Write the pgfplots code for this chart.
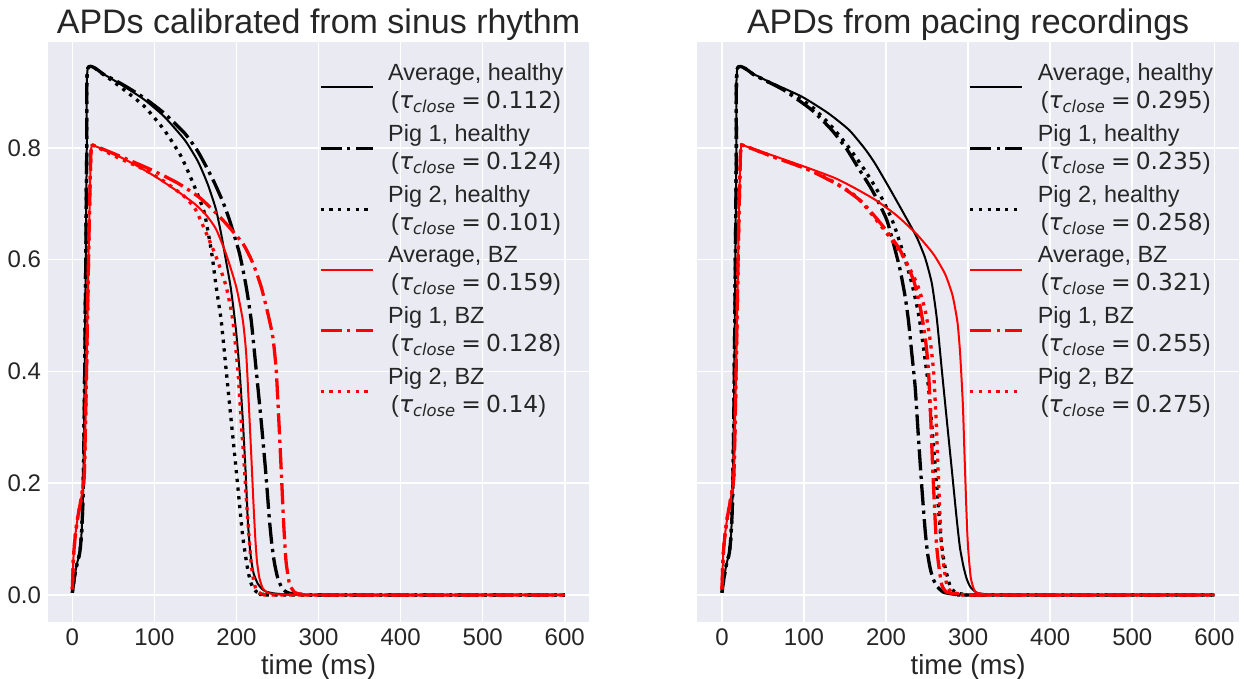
\documentclass[border=0pt]{standalone}
\usepackage{fontspec}
\setmainfont{Liberation Sans}
\newfontfamily\dejavu{DejaVu Sans}
\usepackage{pgfplots}
\pgfplotsset{compat=1.18}
\definecolor{bgc}{HTML}{EAEAF2}
\definecolor{tc}{HTML}{262626}
% tau_close label, mathtext-like
\newcommand{\tauc}[1]{\hspace{1.5pt}({\dejavu\itshape τ\textsubscript{close}}\hspace{0.22em}{\dejavu=}\hspace{0.22em}{\dejavu #1})}

\pgfplotsset{
  apd/.style={
    scale only axis, width=270.85pt, height=289.7pt,
    xmin=-30, xmax=630, ymin=-0.0478, ymax=0.989,
    axis background/.style={fill=bgc},
    axis line style={draw=none},
    tick style={draw=none}, major tick length=0pt,
    grid=major, grid style={white, line width=0.8pt},
    xtick={0,100,200,300,400,500,600},
    ytick={0,0.2,0.4,0.6,0.8},
    tick label style={font=\fontsize{12}{14}\selectfont, text=tc, inner sep=3.2pt},
    /pgf/number format/assume math mode=true,
    yticklabel style={/pgf/number format/fixed, /pgf/number format/fixed zerofill, /pgf/number format/precision=1},
    xlabel={time (ms)},
    xlabel style={font=\fontsize{13.8}{16}\selectfont, text=tc, at={(axis description cs:0.5,0)}, anchor=base, yshift=-26.5pt},
    title style={font=\fontsize{17}{20}\selectfont, text=tc, at={(axis description cs:0.5,1)}, anchor=base, yshift=-1.85pt},
    legend cell align=left,
    legend style={draw=none, fill=none, at={(axis description cs:0.5,0.966)}, anchor=north west,
      font=\fontsize{11.7}{14}\selectfont, text=tc, cells={align=left}, row sep=5.55pt, inner sep=0pt,
      nodes={inner sep=0.5pt}, /tikz/every odd column/.append style={column sep=6.5pt}},
    legend image code/.code={\draw[#1] (0pt,0pt) -- (26pt,0pt);},
    every axis plot/.append style={line join=round, smooth, tension=0.35},
  },
  avg/.style={line width=1pt},
  p1/.style={line width=1.65pt, dash pattern=on 10.56pt off 2.64pt on 1.65pt off 2.64pt},
  p2/.style={line width=1.65pt, dash pattern=on 1.65pt off 2.72pt},
}

\begin{document}
\begin{tikzpicture}
\path[use as bounding box] (0,0) rectangle (622pt,339.5pt);

% ---------- left: sinus rhythm ----------
\begin{axis}[apd, at={(23.85pt,28.65pt)}, anchor=south west,
  title={APDs calibrated from sinus rhythm}]
\addplot[black, avg] coordinates {
 (0,0.004) (3,0.035) (6,0.058) (9,0.075) (11,0.105) (12.5,0.15) (13.6,0.22) (14.8,0.36) (16.2,0.57) (17.6,0.80) (18.8,0.942)
 (39,0.931) (63,0.910) (88,0.886) (112,0.856) (137,0.814) (153,0.776) (165,0.735) (175,0.69) (181.5,0.645) (187,0.6)
 (193,0.55) (199,0.48) (203.7,0.403) (207.7,0.313) (211,0.224) (213.8,0.134) (216,0.09) (218,0.062) (221,0.038)
 (226,0.02) (231,0.011) (236,0.006) (245,0.003) (260,0.001) (300,0) (600,0)};
\addlegendentry{Average, healthy\\ \tauc{0.112}}
\addplot[black, p1] coordinates {
 (0,0.004) (3,0.035) (6,0.058) (9,0.075) (11,0.105) (12.5,0.15) (13.6,0.22) (14.8,0.36) (16.2,0.57) (17.6,0.80) (18.8,0.942)
 (39,0.931) (63,0.912) (88,0.889) (112,0.862) (137,0.826) (152,0.796) (163,0.767) (173,0.738) (183,0.705) (191.5,0.671)
 (203.7,0.611) (211.8,0.552) (217.9,0.492) (224,0.403) (230,0.313) (235.4,0.224) (240.2,0.134) (243,0.092) (246.3,0.057)
 (250,0.032) (254.5,0.015) (259,0.007) (265,0.003) (280,0.001) (300,0) (600,0)};
\addlegendentry{Pig 1, healthy\\ \tauc{0.124}}
\addplot[black, p2] coordinates {
 (0,0.004) (3,0.035) (6,0.058) (9,0.075) (11,0.105) (12.5,0.15) (13.6,0.22) (14.8,0.36) (16.2,0.57) (17.6,0.80) (18.8,0.942)
 (39,0.930) (63,0.904) (88,0.874) (112,0.832) (132.5,0.785) (148.8,0.731) (161,0.683) (170,0.61) (175.2,0.552) (181.3,0.492)
 (187.4,0.403) (193.5,0.313) (197.6,0.254) (201.6,0.194) (207.7,0.104) (213.8,0.045) (218,0.02) (224,0.006) (232,0.002)
 (250,0) (600,0)};
\addlegendentry{Pig 2, healthy\\ \tauc{0.101}}
\addplot[red, avg] coordinates {
 (0,0.01) (1.5,0.07) (3.7,0.107) (6.5,0.138) (9.5,0.162) (12.5,0.188) (14.6,0.215) (16.5,0.34) (18.5,0.50) (20.5,0.66) (22.5,0.785) (23.5,0.803) (25,0.805)
 (55,0.786) (80,0.767) (104,0.746) (128.5,0.722) (149,0.700) (163,0.68) (175,0.655) (187.4,0.610) (199.6,0.552) (207.7,0.492)
 (211.8,0.433) (215,0.343) (217.9,0.254) (220.7,0.164) (223,0.1) (225,0.06) (228,0.03) (232,0.012) (238,0.004) (250,0.001)
 (300,0) (600,0)};
\addlegendentry{Average, BZ\\ \tauc{0.159}}
\addplot[red, p1] coordinates {
 (0,0.01) (1.5,0.07) (3.7,0.107) (6.5,0.138) (9.5,0.162) (12.5,0.188) (14.6,0.215) (16.5,0.34) (18.5,0.50) (20.5,0.66) (22.5,0.785) (23.5,0.803) (25,0.805)
 (55,0.787) (96,0.761) (128.5,0.737) (156,0.71) (183.3,0.671) (207.7,0.629) (219.9,0.594) (230,0.552) (238.2,0.504)
 (244.3,0.462) (248.4,0.403) (251.6,0.313) (254.5,0.224) (257.3,0.134) (259,0.09) (260.6,0.057) (264.6,0.02) (270.7,0.005)
 (280,0.001) (300,0) (600,0)};
\addlegendentry{Pig 1, BZ\\ \tauc{0.128}}
\addplot[red, p2] coordinates {
 (0,0.01) (1.5,0.07) (3.7,0.107) (6.5,0.138) (9.5,0.162) (12.5,0.188) (14.6,0.215) (16.5,0.34) (18.5,0.50) (20.5,0.66) (22.5,0.785) (23.5,0.803) (25,0.805)
 (55,0.783) (88,0.761) (112,0.740) (136.6,0.713) (150,0.69) (163,0.648) (175.2,0.605) (187.4,0.552) (195.5,0.492)
 (201.6,0.403) (205.7,0.313) (209.8,0.224) (213.8,0.134) (217.9,0.057) (221,0.025) (224,0.01) (230,0.002) (250,0) (600,0)};
\addlegendentry{Pig 2, BZ\\ \tauc{0.14}}
\end{axis}

% ---------- right: pacing ----------
\begin{axis}[apd, at={(348.65pt,28.65pt)}, anchor=south west, yticklabels={},
  title={APDs from pacing recordings}]
\addplot[black, avg] coordinates {
 (0,0.004) (3,0.035) (6,0.058) (9,0.075) (11,0.105) (12.5,0.15) (13.6,0.22) (14.8,0.36) (16.2,0.57) (17.6,0.80) (18.8,0.942)
 (40,0.931) (56.5,0.919) (97,0.892) (129.6,0.862) (155,0.832) (174.4,0.798) (186.6,0.772) (204.9,0.726) (225.2,0.673)
 (237.4,0.640) (247.6,0.603) (255.7,0.558) (261.8,0.495) (267.9,0.403) (274,0.313) (280.1,0.224) (286.2,0.134) (290,0.085)
 (294.3,0.051) (298,0.03) (302.4,0.015) (310.6,0.004) (325,0.001) (350,0) (600,0)};
\addlegendentry{Average, healthy\\ \tauc{0.295}}
\addplot[black, p1] coordinates {
 (0,0.004) (3,0.035) (6,0.058) (9,0.075) (11,0.105) (12.5,0.15) (13.6,0.22) (14.8,0.36) (16.2,0.57) (17.6,0.80) (18.8,0.942)
 (40,0.930) (56.5,0.918) (77,0.902) (109.4,0.868) (133.8,0.832) (152,0.798) (166.2,0.764) (180,0.732) (189,0.708)
 (200.9,0.671) (209,0.629) (217.1,0.582) (223.2,0.534) (227.2,0.492) (231.3,0.433) (235.4,0.373) (239.4,0.283) (243.5,0.194)
 (247.6,0.116) (250.5,0.075) (253.7,0.048) (257,0.03) (261.8,0.016) (269.9,0.005) (285,0.001) (300,0) (600,0)};
\addlegendentry{Pig 1, healthy\\ \tauc{0.235}}
\addplot[black, p2] coordinates {
 (0,0.004) (3,0.035) (6,0.058) (9,0.075) (11,0.105) (12.5,0.15) (13.6,0.22) (14.8,0.36) (16.2,0.57) (17.6,0.80) (18.8,0.942)
 (40,0.930) (56.5,0.918) (76.8,0.904) (109.4,0.874) (133.8,0.838) (154,0.802) (170.4,0.768) (182,0.742) (196.7,0.705)
 (209,0.665) (221.1,0.611) (231.3,0.558) (239.4,0.504) (245.5,0.444) (251.6,0.373) (256.9,0.283) (261.8,0.194) (265.9,0.116)
 (269,0.075) (272,0.049) (278,0.016) (284.1,0.005) (295,0.001) (310,0) (600,0)};
\addlegendentry{Pig 2, healthy\\ \tauc{0.258}}
\addplot[red, avg] coordinates {
 (0,0.01) (1.5,0.07) (3.7,0.107) (6.5,0.138) (9.5,0.162) (12.5,0.188) (14.6,0.215) (16.5,0.34) (18.5,0.50) (20.5,0.66) (22.5,0.785) (23.5,0.803) (25,0.805)
 (64.6,0.785) (105.2,0.764) (137.8,0.746) (162,0.728) (188,0.706) (213,0.679) (237,0.646) (257.7,0.610) (272,0.574)
 (281,0.536) (287,0.488) (290.2,0.433) (293.5,0.343) (295.5,0.254) (297.6,0.164) (299,0.11) (300.4,0.075) (303.3,0.03)
 (308.5,0.006) (320,0.001) (340,0) (600,0)};
\addlegendentry{Average, BZ\\ \tauc{0.321}}
\addplot[red, p1] coordinates {
 (0,0.01) (1.5,0.07) (3.7,0.107) (6.5,0.138) (9.5,0.162) (12.5,0.188) (14.6,0.215) (16.5,0.34) (18.5,0.50) (20.5,0.66) (22.5,0.785) (23.5,0.803) (25,0.805)
 (64.6,0.783) (105.2,0.761) (137.8,0.737) (156,0.72) (172.3,0.701) (196.7,0.659) (217.1,0.617) (233.3,0.564) (241.5,0.516)
 (247.6,0.462) (251.6,0.403) (254.5,0.313) (256.9,0.224) (259.8,0.134) (261.5,0.09) (263.8,0.057) (267.9,0.018) (274,0.005)
 (290,0.001) (310,0) (600,0)};
\addlegendentry{Pig 1, BZ\\ \tauc{0.255}}
\addplot[red, p2] coordinates {
 (0,0.01) (1.5,0.07) (3.7,0.107) (6.5,0.138) (9.5,0.162) (12.5,0.188) (14.6,0.215) (16.5,0.34) (18.5,0.50) (20.5,0.66) (22.5,0.785) (23.5,0.803) (25,0.805)
 (64.6,0.783) (105.2,0.762) (137.8,0.738) (162,0.715) (176.5,0.692) (200.9,0.647) (221.1,0.605) (237.4,0.558) (247.6,0.510)
 (253.7,0.456) (257.7,0.403) (261,0.313) (263.4,0.224) (265.9,0.134) (267.5,0.09) (269.9,0.057) (274,0.018) (280.1,0.005)
 (295,0.001) (310,0) (600,0)};
\addlegendentry{Pig 2, BZ\\ \tauc{0.275}}
\end{axis}
\end{tikzpicture}
\end{document}
